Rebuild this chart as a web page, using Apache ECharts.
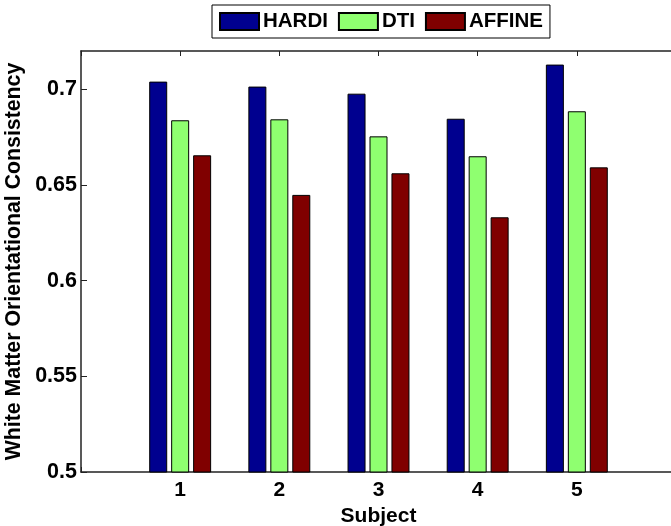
<!DOCTYPE html>
<html>
<head>
<meta charset="utf-8">
<script src="https://cdn.jsdelivr.net/npm/echarts@6/dist/echarts.min.js"></script>
<style>
  html, body { margin: 0; padding: 0; background: #fff; }
  #chart { width: 671px; height: 526px; }
</style>
</head>
<body>
<div id="chart"></div>
<script>
// subjects on the x axis
const subjects = [1, 2, 3, 4, 5];
const seriesNames = ["HARDI", "DTI", "AFFINE"];
const hardi = [0.704, 0.7014, 0.6977, 0.6846, 0.7129];
const dti = [0.6838, 0.6843, 0.6754, 0.665, 0.6885];
const affine = [0.6655, 0.6448, 0.6561, 0.6331, 0.6592];
const yTicks = [0.5, 0.55, 0.6, 0.65, 0.7];

const colors = ["#00008f", "#8fff70", "#800000"];
const font = "Liberation Sans, Arial, Helvetica, sans-serif";

const chart = echarts.init(document.getElementById("chart"));

function makeSeries(name, values, color) {
  return {
    name: name,
    type: "bar",
    barWidth: 18,
    barGap: "22%",
    itemStyle: { color: color, borderColor: "#000", borderWidth: 1 },
    data: subjects.map((s, i) => [s, values[i]]),
  };
}

const xBase = {
  type: "value",
  min: 0,
  max: 6,
  interval: 1,
  splitLine: { show: false },
  axisLine: { lineStyle: { color: "#222", width: 1.5 } },
  axisTick: { inside: true, length: 5, lineStyle: { color: "#222" } },
};

const option = {
  animation: false,
  textStyle: { fontFamily: font },
  legend: {
    data: seriesNames,
    icon: "rect",
    left: 212,
    top: 5,
    padding: [6, 7, 6, 7],
    itemWidth: 39,
    itemHeight: 17,
    itemGap: 10,
    borderColor: "#000",
    borderWidth: 1,
    textStyle: { fontFamily: font, fontWeight: "bold", fontSize: 20.5, color: "#000", padding: [0, 0, 0, -1] },
  },
  grid: { left: 81, top: 51, width: 595, height: 421, outerBoundsMode: "none", containLabel: false },
  xAxis: [
    Object.assign({}, xBase, {
      position: "bottom",
      name: "Subject",
      nameLocation: "middle",
      nameGap: 33,
      nameTextStyle: { fontFamily: font, fontWeight: "bold", fontSize: 21, color: "#000" },
      axisLabel: {
        fontFamily: font,
        fontWeight: "bold",
        fontSize: 21,
        color: "#000",
        margin: 8,
        formatter: v => (subjects.indexOf(v) >= 0 ? String(v) : ""),
      },
    }),
    Object.assign({}, xBase, {
      position: "top",
      axisLabel: { show: false },
    }),
  ],
  yAxis: {
    type: "value",
    min: 0.5,
    max: 0.72,
    interval: 0.05,
    name: "White Matter Orientational Consistency",
    nameLocation: "middle",
    nameGap: 50,
    nameTextStyle: { fontFamily: font, fontWeight: "bold", fontSize: 21.3, color: "#000" },
    splitLine: { show: false },
    axisLine: { show: true, lineStyle: { color: "#222", width: 1.5 } },
    axisTick: { inside: true, length: 6, lineStyle: { color: "#222" } },
    axisLabel: {
      fontFamily: font,
      fontWeight: "bold",
      fontSize: 21.5,
      color: "#000",
      margin: 4,
      showMaxLabel: false,
      formatter: v => {
        const t = yTicks.find(y => Math.abs(y - v) < 1e-9);
        return t === undefined ? "" : String(t);
      },
    },
  },
  series: [
    makeSeries(seriesNames[0], hardi, colors[0]),
    makeSeries(seriesNames[1], dti, colors[1]),
    makeSeries(seriesNames[2], affine, colors[2]),
  ],
};

chart.setOption(option);
</script>
</body>
</html>
